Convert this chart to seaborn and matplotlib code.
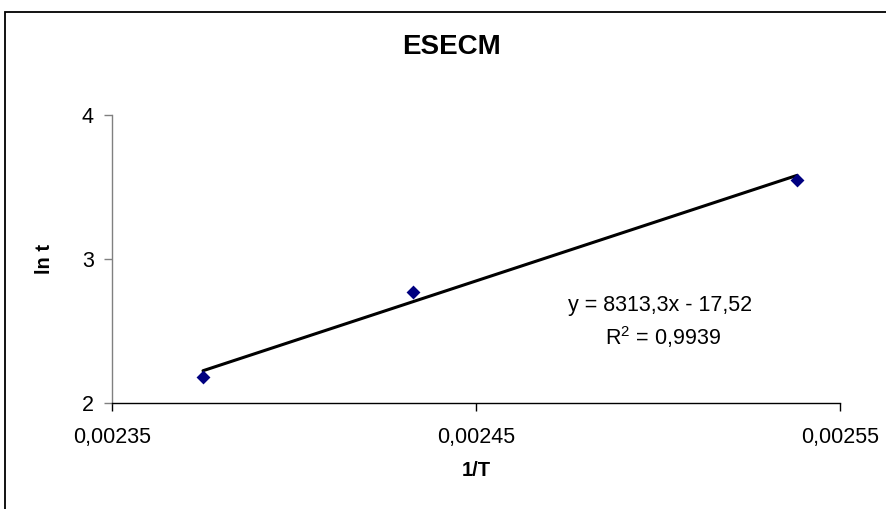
import matplotlib
matplotlib.use("Agg")
import matplotlib.pyplot as plt
import matplotlib.patches as mpatches
import seaborn as sns
import numpy as np
import pandas as pd

# Data
inv_T = [0.002375, 0.0024327, 0.0025382]
ln_t = [2.18, 2.77, 3.55]
slope = 8313.3
intercept = -17.52
x_ticks = [0.00235, 0.00245, 0.00255]
x_tick_labels = ["0,00235", "0,00245", "0,00255"]
y_ticks = [2, 3, 4]
title = "ESECM"
x_label = "1/T"
y_label = "ln t"
eq_text = "y = 8313,3x - 17,52"
r2_text = "R$^2$ = 0,9939"

sns.set_style("ticks")
plt.rcParams['font.family'] = ['Liberation Sans', 'DejaVu Sans']
plt.rcParams['mathtext.fontset'] = 'custom'
plt.rcParams['mathtext.rm'] = 'Liberation Sans'
plt.rcParams['text.color'] = 'black'

fig = plt.figure(figsize=(8.87, 5.09), dpi=100)
ax = fig.add_axes([112/887, 1-403/509, (840-112)/887, (403-115)/509])

df = pd.DataFrame({"x": inv_T, "y": ln_t})
trend_x = [min(inv_T), max(inv_T)]
trend_df = pd.DataFrame({"x": trend_x, "y": [slope*v + intercept for v in trend_x]})
sns.lineplot(data=trend_df, x="x", y="y", color="black", linewidth=2.2, ax=ax)
sns.scatterplot(data=df, x="x", y="y", marker="D", color="#000080", s=50,
                edgecolor="#000080", linewidth=0, ax=ax, zorder=3)

ax.set_xlim(0.00235, 0.00255)
ax.set_ylim(2, 4)
ax.set_xticks(x_ticks)
ax.set_xticklabels(x_tick_labels)
ax.set_yticks(y_ticks)
ax.tick_params(direction="out", length=6, width=1, labelsize=15.5,
               colors="black", labelcolor="black")
ax.tick_params(axis="x", pad=11)
ax.tick_params(axis="y", pad=7, color="#808080")
for s in ["top", "right"]:
    ax.spines[s].set_visible(False)
ax.spines["left"].set_color("#808080")
ax.spines["bottom"].set_color("black")
ax.spines["left"].set_linewidth(1)
ax.spines["bottom"].set_linewidth(1)

ax.set_xlabel(x_label, fontsize=14.5, fontweight="bold", color="black")
ax.set_ylabel(y_label, fontsize=14.5, fontweight="bold", color="black")
ax.xaxis.set_label_coords(0.5, (403-470)/288)
ax.xaxis.label.set_verticalalignment("center")
ax.yaxis.set_label_coords((44-112)/728, 1-(259-115)/288)
ax.yaxis.label.set_verticalalignment("center")

fig.text(452/887, 1-47/509, title, fontsize=20, fontweight="bold", ha="center", va="center", color="black")

fig.text(660/887, 1-305/509, eq_text, fontsize=15.5, ha="center", va="center", color="black")
fig.text(663/887, 1-337/509, r2_text, fontsize=15.5, ha="center", va="center", color="black")

border = mpatches.Rectangle((5/887, -0.1), 1.2, 1-12/509+0.1, transform=fig.transFigure,
                            fill=False, edgecolor="black", linewidth=1.3)
fig.patches.append(border)

fig.savefig("out.png", dpi=100)
